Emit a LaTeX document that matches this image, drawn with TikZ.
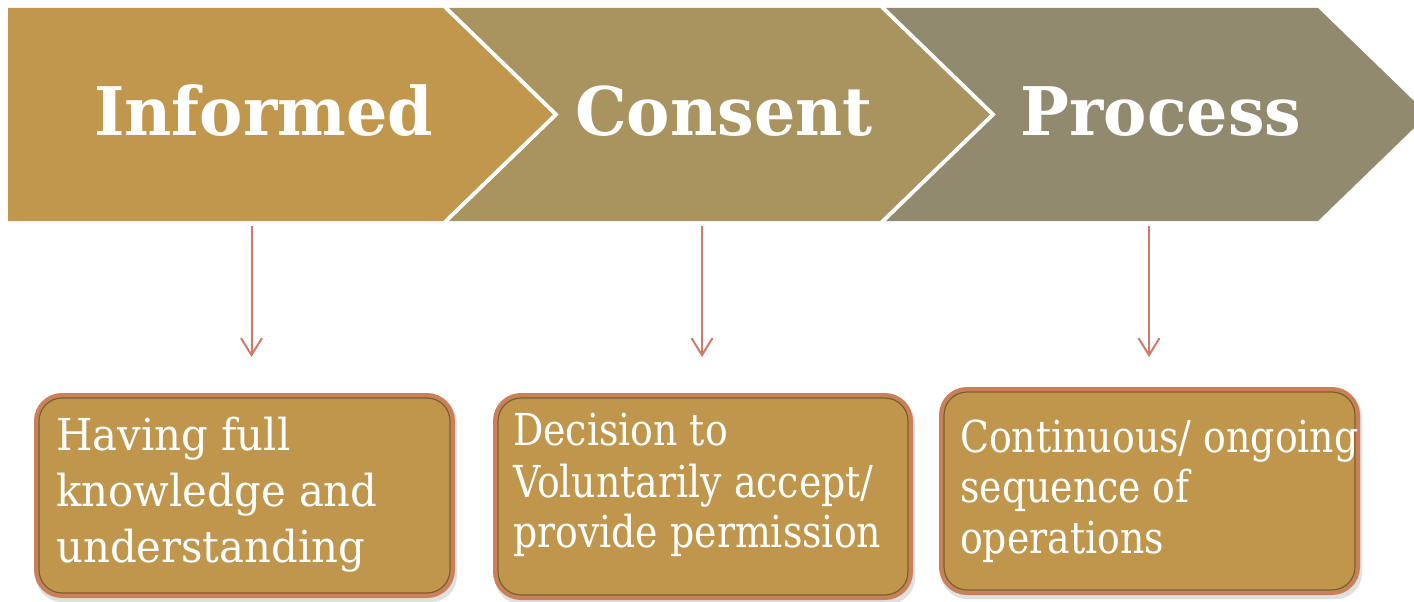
\documentclass[tikz,border=0pt]{standalone}
\usepackage{fontspec}
\setmainfont{DejaVu Serif}
\newfontfamily\headfont[FakeStretch=0.97]{DejaVu Serif}
\newfontfamily\bodyfont[FakeStretch=0.86]{DejaVu Serif}
\newfontfamily\bodyfontwide[FakeStretch=0.95]{DejaVu Serif}
\usetikzlibrary{arrows.meta}
\definecolor{chevA}{RGB}{192,151,77}
\definecolor{chevB}{RGB}{169,147,94}
\definecolor{chevC}{RGB}{145,138,110}
\definecolor{boxfill}{RGB}{191,150,76}
\definecolor{boxedge}{RGB}{203,128,92}
\definecolor{boxinner}{RGB}{120,94,45}
\definecolor{arrowc}{RGB}{206,122,102}
\tikzset{
  head/.style={text=white, anchor=base, inner sep=0pt, font=\headfont\bfseries\fontsize{67}{80}\selectfont},
  line/.style={text=white, anchor=base west, inner sep=0pt, font=\bodyfont\fontsize{44}{52}\selectfont},
  linewide/.style={line, font=\bodyfontwide\fontsize{44}{52}\selectfont},
  conn/.style={draw=arrowc, line width=2pt, -{Straight Barb[length=17pt,width=21pt,line width=2pt]}},
  box/.style={draw=boxedge, line width=4pt, fill=boxfill, rounded corners=26pt, outer sep=0pt, inner sep=0pt},
  boxshadow/.style={fill=black, opacity=0.12, rounded corners=26pt},
  boxline/.style={draw=boxinner, line width=1.2pt, rounded corners=23pt}
}
\begin{document}
\begin{tikzpicture}[x=1pt,y=-1pt]
\useasboundingbox (0,0) rectangle (1414,602);
\clip (0,0) rectangle (1414,602);
% chevrons
\fill[chevA] (8,8) -- (443,8) -- (553,114.5) -- (443,221) -- (8,221) -- cycle;
\fill[chevB] (449,8) -- (880,8) -- (990,114.5) -- (880,221) -- (449,221) -- (559,114.5) -- cycle;
\fill[chevC] (886,8) -- (1318,8) -- (1428,114.5) -- (1318,221) -- (886,221) -- (996,114.5) -- cycle;
\node[head] (informed) at (263.5,135) {Informed};
\node[head] (consent) at (724,135) {Consent};
\node[head] (process) at (1161,135) {Process};
% arrows
\coordinate (a1s) at (251.5,226); \coordinate (a1e) at (251.5,357);
\coordinate (a2s) at (702,226);   \coordinate (a2e) at (702,357);
\coordinate (a3s) at (1149,226);  \coordinate (a3e) at (1149,357);
\draw[conn] (a1s) -- (a1e);
\draw[conn] (a2s) -- (a2e);
\draw[conn] (a3s) -- (a3e);
% boxes
\fill[boxshadow] (36,397) rectangle (457,602);
\fill[boxshadow] (495,397) rectangle (915,604);
\fill[boxshadow] (941,391) rectangle (1362,599);
\node[box, minimum width=417pt, minimum height=201pt] (b1) at (244.5,495.5) {};
\node[box, minimum width=416pt, minimum height=203pt] (b2) at (703,496.5) {};
\node[box, minimum width=417pt, minimum height=204pt] (b3) at (1149.5,491) {};
\foreach \b in {b1,b2,b3}{
  \draw[boxline] ([shift={(3,3)}]\b.north west) rectangle ([shift={(-3,-3)}]\b.south east);
}
\node[linewide] (t11) at (56,450) {Having full};
\node[linewide] (t12) at (56,506) {knowledge and};
\node[linewide] (t13) at (56,562) {understanding};
\node[line] (t21) at (513,445) {Decision to};
\node[line] (t22) at (513,497) {Voluntarily accept/};
\node[line] (t23) at (513,547) {provide permission};
\node[line] (t31) at (960,452) {Continuous/ ongoing};
\node[line] (t32) at (960,502) {sequence of};
\node[line] (t33) at (960,553) {operations};
\end{tikzpicture}
\end{document}
